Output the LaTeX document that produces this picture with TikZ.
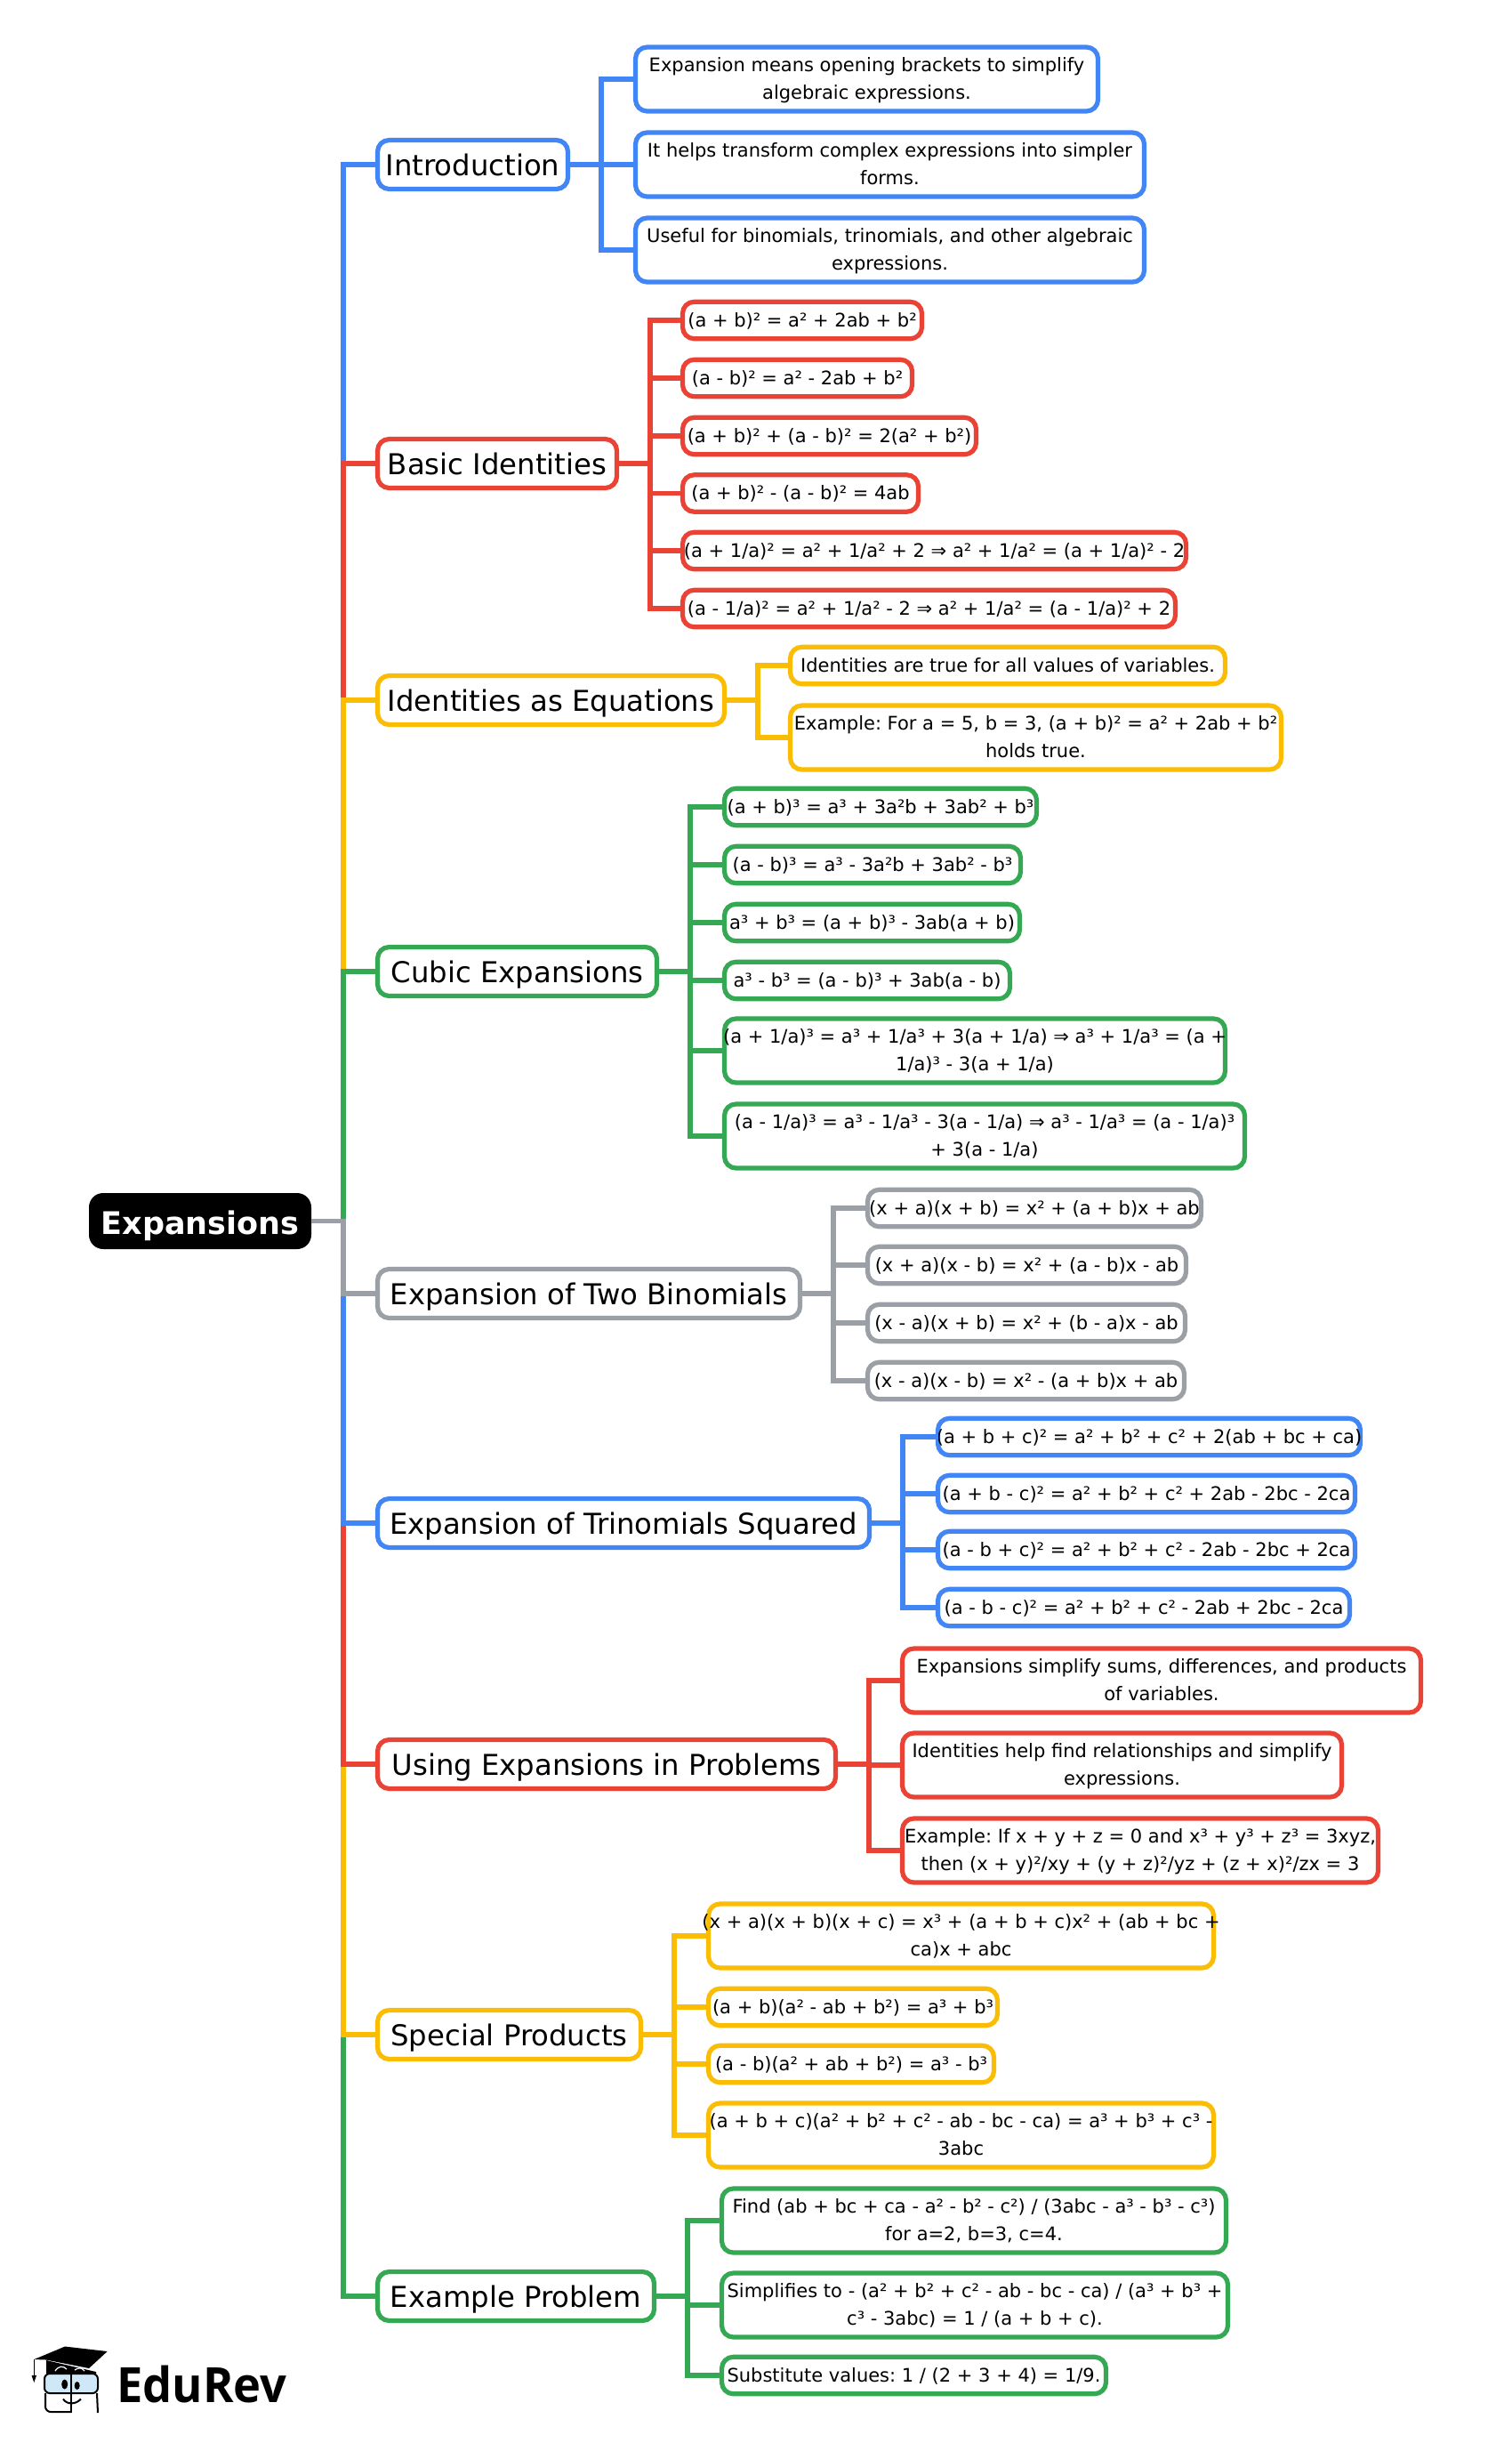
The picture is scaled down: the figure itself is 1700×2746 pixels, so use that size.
\documentclass[tikz,border=0pt]{standalone}
\usepackage{fontspec}
\setmainfont{DejaVu Sans}
\newfontfamily\logofont[FakeStretch=0.96]{Open Sans}
\frenchspacing
\definecolor{cblue}{HTML}{4285F4}
\definecolor{cred}{HTML}{EA4335}
\definecolor{cyellow}{HTML}{FBBC04}
\definecolor{cgreen}{HTML}{34A853}
\definecolor{cgray}{HTML}{9AA0A6}
\definecolor{cglass}{HTML}{CFE8F7}
\newcommand\sd{.24em}
\newcommand\sh{1.1em}
\newcommand\rs{0em}
\newcommand\st{\rule[-\sd]{0pt}{\sh}}
\newcommand\ov[1]{\makebox[0pt][c]{\raisebox{-\rs}[0pt][0pt]{#1}}}
\tikzset{
  boxbase/.style={rectangle,rounded corners=6.5pt,line width=2.6pt,inner sep=0pt,outer sep=0pt,align=center,text=black,fill=white},
  leaf/.style={boxbase,font=\fontsize{10.5}{15.5}\selectfont\def\sh{1.1em}\def\rs{.035em}},
  topic/.style={boxbase,font=\fontsize{16.15}{20}\selectfont\def\sh{1.16em}\def\rs{.055em}},
  rootbox/.style={rectangle,rounded corners=8pt,fill=black,text=white,inner sep=0pt,outer sep=0pt,font=\fontsize{17.5}{20}\selectfont\bfseries\def\sh{1.24em}\def\rs{.05em},align=center},
  conn/.style={line width=2.9pt},
}
% #1 style, #2 name, #3 x0, #4 x1, #5 centre y, #6 height, #7 colour, #8 text (, #9 second line)
\newcommand\nd[8]{\node[#1,draw=#7,minimum width={(#4-#3-5)*0.5pt},minimum height={(#6-5)*0.5pt}] (#2) at ({(#3+#4)/2},#5) {\st\ov{#8}\st};}
\newcommand\ndd[9]{\node[#1,draw=#7,minimum width={(#4-#3-5)*0.5pt},minimum height={(#6-5)*0.5pt}] (#2) at ({(#3+#4)/2},#5) {\st\ov{#8}\\\st\ov{#9}\st};}
\newcommand\fan[3]{\foreach \c in {#3} {\draw[conn,#1] (#2.east) -- ++(37.5,0) |- (\c.west);}}
\newcommand\tr[2]{\draw[conn,#1] (root.east) -- ++(36,0) |- (#2.west);}
\begin{document}
\begin{tikzpicture}[x=0.5pt,y=-0.5pt]
\useasboundingbox (0,0) rectangle (1700,2746);
% root
\node[rootbox,minimum width=125pt,minimum height=31.5pt] (root) at (225,1372.5) {\st\ov{Expansions}\st};
% topics
\nd{topic}{intro}{422}{641}{185}{60}{cblue}{Introduction}
\nd{topic}{basic}{422}{696}{521}{60}{cred}{Basic Identities}
\nd{topic}{ideq}{422}{817}{787}{60}{cyellow}{Identities as Equations}
\nd{topic}{cubic}{422}{741}{1092}{60}{cgreen}{Cubic Expansions}
\nd{topic}{bino}{422}{902}{1454}{60}{cgray}{Expansion of Two Binomials}
\nd{topic}{trino}{422}{980}{1712}{60}{cblue}{Expansion of Trinomials Squared}
\nd{topic}{using}{422}{942}{1983}{60}{cred}{Using Expansions in Problems}
\nd{topic}{spec}{422}{723}{2287}{60}{cyellow}{Special Products}
\nd{topic}{exam}{422}{738}{2581}{60}{cgreen}{Example Problem}
% introduction
\ndd{leaf}{i1}{712}{1237}{89}{77}{cblue}{Expansion means opening brackets to simplify}{algebraic expressions.}
\ndd{leaf}{i2}{712}{1289}{185}{77}{cblue}{It helps transform complex expressions into simpler}{forms.}
\ndd{leaf}{i3}{712}{1289}{281}{77}{cblue}{Useful for binomials, trinomials, and other algebraic}{expressions.}
% basic
\nd{leaf}{b1}{765}{1039}{360}{46.5}{cred}{(a + b)² = a² + 2ab + b²}
\nd{leaf}{b2}{765}{1028}{425}{46.5}{cred}{(a - b)² = a² - 2ab + b²}
\nd{leaf}{b3}{765}{1100}{490}{46.5}{cred}{(a + b)² + (a - b)² = 2(a² + b²)}
\nd{leaf}{b4}{765}{1035}{554.5}{46.5}{cred}{(a + b)² - (a - b)² = 4ab}
\nd{leaf}{b5}{765}{1336}{619}{46.5}{cred}{(a + 1/a)² = a² + 1/a² + 2 ⇒ a² + 1/a² = (a + 1/a)² - 2}
\nd{leaf}{b6}{765}{1324}{684}{46.5}{cred}{(a - 1/a)² = a² + 1/a² - 2 ⇒ a² + 1/a² = (a - 1/a)² + 2}
% identities
\nd{leaf}{e1}{886}{1380}{748}{46.5}{cyellow}{Identities are true for all values of variables.}
\ndd{leaf}{e2}{886}{1443}{829}{77}{cyellow}{Example: For a = 5, b = 3, (a + b)² = a² + 2ab + b²}{holds true.}
% cubic
\nd{leaf}{c1}{812}{1168}{907}{46.5}{cgreen}{(a + b)³ = a³ + 3a²b + 3ab² + b³}
\nd{leaf}{c2}{812}{1150}{972}{46.5}{cgreen}{(a - b)³ = a³ - 3a²b + 3ab² - b³}
\nd{leaf}{c3}{812}{1149}{1037}{46.5}{cgreen}{a³ + b³ = (a + b)³ - 3ab(a + b)}
\nd{leaf}{c4}{812}{1138}{1102}{46.5}{cgreen}{a³ - b³ = (a - b)³ + 3ab(a - b)}
\ndd{leaf}{c5}{812}{1380}{1181}{77}{cgreen}{(a + 1/a)³ = a³ + 1/a³ + 3(a + 1/a) ⇒ a³ + 1/a³ = (a +}{1/a)³ - 3(a + 1/a)}
\ndd{leaf}{c6}{812}{1402}{1277}{77}{cgreen}{(a - 1/a)³ = a³ - 1/a³ - 3(a - 1/a) ⇒ a³ - 1/a³ = (a - 1/a)³}{+ 3(a - 1/a)}
% binomials
\nd{leaf}{d1}{973}{1353}{1358}{46.5}{cgray}{(x + a)(x + b) = x² + (a + b)x + ab}
\nd{leaf}{d2}{973}{1336}{1422}{46.5}{cgray}{(x + a)(x - b) = x² + (a - b)x - ab}
\nd{leaf}{d3}{973}{1335}{1487}{46.5}{cgray}{(x - a)(x + b) = x² + (b - a)x - ab}
\nd{leaf}{d4}{973}{1334}{1552}{46.5}{cgray}{(x - a)(x - b) = x² - (a + b)x + ab}
% trinomials
\nd{leaf}{t1}{1052}{1532}{1615}{46.5}{cblue}{(a + b + c)² = a² + b² + c² + 2(ab + bc + ca)}
\nd{leaf}{t2}{1052}{1526}{1679}{46.5}{cblue}{(a + b - c)² = a² + b² + c² + 2ab - 2bc - 2ca}
\nd{leaf}{t3}{1052}{1526}{1742}{46.5}{cblue}{(a - b + c)² = a² + b² + c² - 2ab - 2bc + 2ca}
\nd{leaf}{t4}{1052}{1520}{1807}{46.5}{cblue}{(a - b - c)² = a² + b² + c² - 2ab + 2bc - 2ca}
% using
\ndd{leaf}{u1}{1012}{1600}{1889}{77}{cred}{Expansions simplify sums, differences, and products}{of variables.}
\ndd{leaf}{u2}{1012}{1511}{1984}{77}{cred}{Identities help find relationships and simplify}{expressions.}
\ndd{leaf}{u3}{1012}{1552}{2080}{77}{cred}{Example: If x + y + z = 0 and x³ + y³ + z³ = 3xyz,}{then (x + y)²/xy + (y + z)²/yz + (z + x)²/zx = 3}
% special
\ndd{leaf}{s1}{794}{1367}{2176}{77}{cyellow}{(x + a)(x + b)(x + c) = x³ + (a + b + c)x² + (ab + bc +}{ca)x + abc}
\nd{leaf}{s2}{794}{1124}{2256}{46.5}{cyellow}{(a + b)(a² - ab + b²) = a³ + b³}
\nd{leaf}{s3}{794}{1120}{2320}{46.5}{cyellow}{(a - b)(a² + ab + b²) = a³ - b³}
\ndd{leaf}{s4}{794}{1367}{2400}{77}{cyellow}{(a + b + c)(a² + b² + c² - ab - bc - ca) = a³ + b³ + c³ -}{3abc}
% example
\ndd{leaf}{x1}{809}{1381}{2496}{77}{cgreen}{Find (ab + bc + ca - a² - b² - c²) / (3abc - a³ - b³ - c³)}{for a=2, b=3, c=4.}
\ndd{leaf}{x2}{809}{1383}{2591}{77}{cgreen}{Simplifies to - (a² + b² + c² - ab - bc - ca) / (a³ + b³ +}{c³ - 3abc) = 1 / (a + b + c).}
\nd{leaf}{x3}{809}{1246}{2670}{46.5}{cgreen}{Substitute values: 1 / (2 + 3 + 4) = 1/9.}
% trunk connectors
\tr{cblue}{intro}
\tr{cred}{basic}
\tr{cyellow}{ideq}
\tr{cgreen}{cubic}
\tr{cgreen}{exam}
\tr{cyellow}{spec}
\tr{cred}{using}
\tr{cblue}{trino}
\tr{cgray}{bino}
% branch connectors
\fan{cblue}{intro}{i1,i2,i3}
\fan{cred}{basic}{b1,b2,b3,b4,b5,b6}
\fan{cyellow}{ideq}{e1,e2}
\fan{cgreen}{cubic}{c1,c2,c3,c4,c5,c6}
\fan{cgray}{bino}{d1,d2,d3,d4}
\fan{cblue}{trino}{t1,t2,t3,t4}
\fan{cred}{using}{u1,u2,u3}
\fan{cyellow}{spec}{s1,s2,s3,s4}
\fan{cgreen}{exam}{x1,x2,x3}
% logo
\fill[cglass,rounded corners=2pt] (50,2668) rectangle (110,2690);
\draw[line width=1pt,rounded corners=3pt] (50,2668) rectangle (110,2690);
\draw[line width=1pt,rounded corners=3pt] (51,2690) -- (51,2711) -- (80,2711);
\draw[line width=1pt,rounded corners=3pt] (109,2690) -- (110,2712);
\draw[line width=1pt] (80,2664) -- (80,2712);
\fill (52,2653) -- (108,2666) -- (108,2668) -- (52,2668) -- cycle;
\fill (38.3,2652) -- (73,2637.5) -- (120.7,2643) -- (100,2662) -- (52,2652.5) -- cycle;
\draw[white,line width=.6pt] (62,2665) .. controls (66,2659) and (71,2659) .. (75,2663);
\draw[white,line width=.6pt] (84,2664) .. controls (88,2661) and (92,2661) .. (95,2665);
\draw[line width=.8pt] (38.3,2652) -- (38.3,2670);
\fill (35.5,2670) -- (41,2670) -- (38.3,2678) -- cycle;
\fill (72.7,2680) ellipse (3.5 and 5.5);
\fill (86.7,2681.5) ellipse (3 and 4.5);
\draw[line width=1pt] (71,2696.5) .. controls (75,2703) and (85,2703) .. (91,2696.5);
\node[font=\fontsize{27.3}{30}\logofont\bfseries,anchor=base west,inner sep=0pt] (logo) at (131,2700) {EduRev};
\end{tikzpicture}
\end{document}
